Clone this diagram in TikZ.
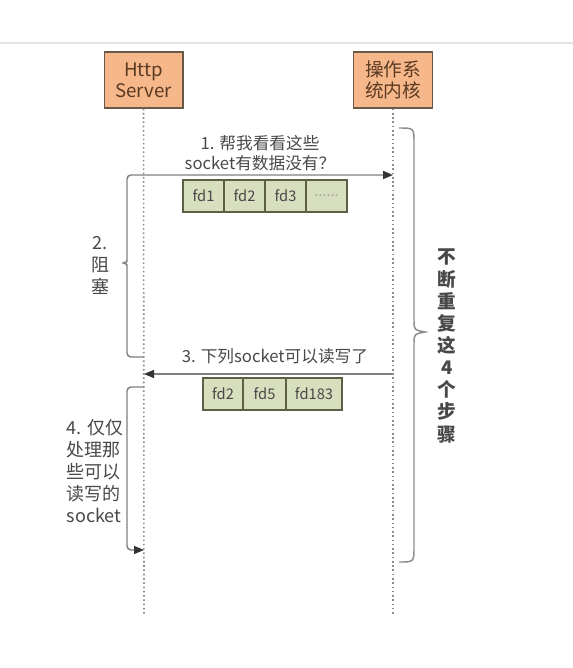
\documentclass[tikz,border=0pt]{standalone}
\usepackage{fontspec}
\setmainfont{Noto Sans CJK SC}
\usetikzlibrary{arrows.meta}
\definecolor{boxfill}{HTML}{F6B78A}
\definecolor{boxline}{HTML}{6A5848}
\definecolor{boxtext}{HTML}{5A3A22}
\definecolor{cellfill}{HTML}{D8DFBE}
\definecolor{cellline}{HTML}{5C6146}
\definecolor{ink}{HTML}{484848}
\begin{document}
\begin{tikzpicture}[x=0.75pt,y=-0.75pt,
    actor/.style={draw=boxline,fill=boxfill,line width=1pt,minimum width=59pt,minimum height=42pt,
        align=center,text=boxtext,font=\fontsize{14}{16}\selectfont},
    lifeline/.style={draw=black!45,line width=1.2pt,dotted},
    flow/.style={draw=black!50,line width=1.1pt,rounded corners=3pt},
    tip/.style={-{Triangle[length=7.5pt,width=6pt,color=black!80]}},
    fdcell/.style={draw=cellline,fill=cellfill,line width=0.8pt,minimum height=24pt,inner sep=0pt,
        text=ink,font=\fontsize{11}{13}\selectfont},
    steptext/.style={align=center,text=ink,font=\fontsize{12.5}{15}\selectfont},
    sidetext/.style={text=ink,font=\fontsize{13.5}{16.5}\selectfont}]
    \useasboundingbox (0,0) rectangle (573,668);
    \draw[black!10,line width=1.1pt] (0,43) -- (573,43);
    % the two parties and their lifelines
    \node[actor] (server) at (143.5,80) {Http\\Server};
    \node[actor] (kernel) at (393,80) {操作系\\统内核};
    \coordinate (serverend) at (144,615);
    \coordinate (kernelend) at (393,615);
    \draw[lifeline] (server) -- (serverend);
    \draw[lifeline] (kernel) -- (kernelend);
    % 1. ask, 2. block
    \coordinate (ask) at (393,175);
    \coordinate (blockend) at (144,357);
    \draw[flow,tip] (blockend) -- (127,357) -- (127,270)
        .. controls (127,264) .. (121,263) .. controls (127,262) .. (127,256)
        -- (127,175) -- (ask);
    \node[steptext] (asktext) at (260,153) {1. 帮我看看这些\\socket有数据没有？};
    \node[fdcell,minimum width=30.75pt] (afd1) at (203.5,196) {fd1};
    \node[fdcell,minimum width=30.75pt] (afd2) at (244.5,196) {fd2};
    \node[fdcell,minimum width=30.75pt] (afd3) at (285.5,196) {fd3};
    \node[fdcell,minimum width=30.75pt,text=black!35] (afd4) at (326.5,196) {......};
    \node[sidetext,align=center] (blocktext) at (100,265) {2.\\阻\\塞};
    % 3. answer
    \coordinate (ready) at (393,374);
    \coordinate (readyend) at (144,374);
    \draw[flow,tip] (ready) -- (readyend);
    \node[steptext] (readytext) at (275,356) {3. 下列socket可以读写了};
    \node[fdcell,minimum width=30pt] (rfd1) at (223,394) {fd2};
    \node[fdcell,minimum width=32.25pt] (rfd2) at (264.5,394) {fd5};
    \node[fdcell,minimum width=42pt] (rfd3) at (314,394) {fd183};
    % 4. handle
    \coordinate (handle) at (144,387);
    \coordinate (handleend) at (144,550);
    \draw[flow,tip] (handle) -- (127,387) -- (127,550) -- (handleend);
    \node[sidetext,align=left] (handletext) at (95,471) {4. 仅仅\\处理那\\些可以\\读写的\\socket};
    % repeat brace
    \draw[draw=black!45,line width=1.1pt] (399,128) .. controls (414,128) .. (414,143) -- (414,320)
        .. controls (414,330) .. (425,332) .. controls (414,334) .. (414,344)
        -- (414,547) .. controls (414,562) .. (399,562);
    \node[text=ink,align=center,font=\bfseries\fontsize{14}{16.6}\selectfont] (looptext) at (447,346)
        {不\\断\\重\\复\\这\\4\\个\\步\\骤};
\end{tikzpicture}
\end{document}
